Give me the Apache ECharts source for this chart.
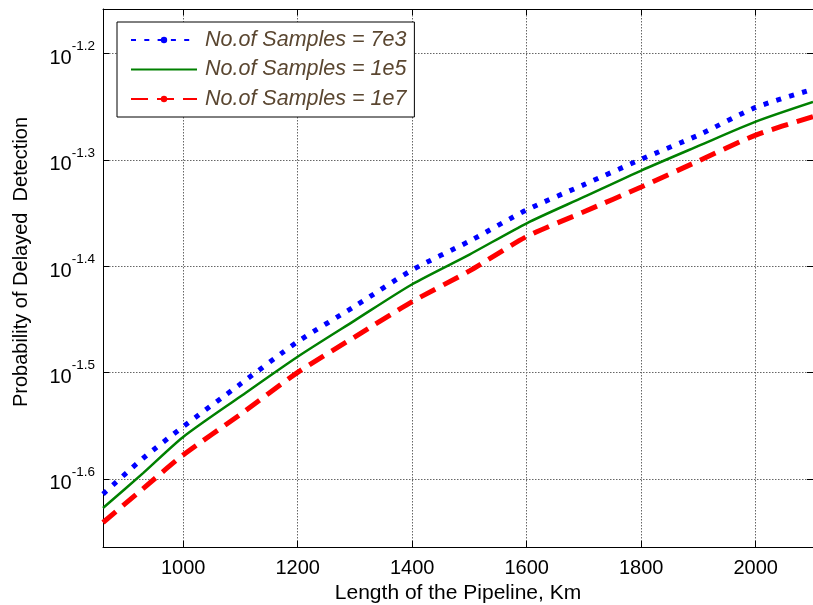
<!DOCTYPE html>
<html>
<head>
<meta charset="utf-8">
<script src="https://cdn.jsdelivr.net/npm/echarts@6/dist/echarts.min.js"></script>
<style>html,body{margin:0;padding:0;background:#fff}#c{width:813px;height:605px}</style>
</head>
<body>
<div id="c"></div>
<script>
// Pipeline length (Km)
var lengths = [860, 930, 1000, 1100, 1200, 1300, 1400, 1500, 1600, 1700, 1800, 1900, 2000, 2100];
// Probability of delayed detection
var samples7e3 = [0.02431, 0.02627, 0.02813, 0.03085, 0.03381, 0.03651, 0.03949, 0.04203, 0.04497, 0.04750, 0.05018, 0.05288, 0.05614, 0.05839];
var samples1e5 = [0.02359, 0.02544, 0.02751, 0.03003, 0.03273, 0.03541, 0.03829, 0.04083, 0.04369, 0.04625, 0.04897, 0.05165, 0.05444, 0.05681];
var samples1e7 = [0.02286, 0.02460, 0.02646, 0.02889, 0.03164, 0.03417, 0.03687, 0.03941, 0.04245, 0.04479, 0.04726, 0.05000, 0.05288, 0.05503];
var seriesNames = ['No.of Samples = 7e3', 'No.of Samples = 1e5', 'No.of Samples = 1e7'];
var xMin = 860, xMax = 2100;
var yMin = 0.02168, yMax = 0.06947;

function pairs(ys) { return lengths.map(function (x, i) { return [x, ys[i]]; }); }

var FONT = 'Liberation Sans, Arial, sans-serif';
var chart = echarts.init(document.getElementById('c'), null, { renderer: 'canvas' });

var gridLine = { show: true, lineStyle: { color: '#666', width: 1, type: [1.5, 1.5] } };
var axisLineStyle = { show: true, onZero: false, lineStyle: { color: '#000', width: 1 } };
var tickIn = { show: true, inside: true, length: 6, lineStyle: { color: '#000' } };
var eMin = Math.log10(yMin), eMax = Math.log10(yMax);

chart.setOption({
  animation: false,
  backgroundColor: '#fff',
  grid: { left: 103, right: 0, top: 9, bottom: 58, containLabel: false, outerBoundsMode: 'none' },
  legend: {
    orient: 'vertical', left: 117, top: 22,
    itemWidth: 66, itemHeight: 8, itemGap: 7.5,
    padding: [7, 8, 7, 13],
    borderColor: '#000', borderWidth: 1, backgroundColor: '#fff',
    textStyle: { fontFamily: FONT, fontSize: 21.5, fontStyle: 'italic', color: '#5a4630', lineHeight: 21, padding: [0, 0, 0, 3] },
    data: [
      { name: seriesNames[0] },
      { name: seriesNames[1], itemStyle: { opacity: 0 } },
      { name: seriesNames[2] }
    ]
  },
  xAxis: [{
    type: 'value', min: xMin, max: xMax, position: 'bottom',
    axisLine: axisLineStyle, axisTick: tickIn, splitLine: gridLine,
    axisLabel: { showMinLabel: false, showMaxLabel: false, margin: 11, fontFamily: FONT, fontSize: 20, color: '#000',
      formatter: function (v) { return String(v); } },
    name: 'Length of the Pipeline, Km', nameLocation: 'middle', nameGap: 36,
    nameTextStyle: { fontFamily: FONT, fontSize: 21, color: '#000' }
  }, {
    type: 'value', min: xMin, max: xMax, position: 'top',
    axisLine: axisLineStyle, axisTick: tickIn, splitLine: { show: false }, axisLabel: { show: false }
  }],
  yAxis: [{
    // log scale carrying the data
    type: 'log', logBase: 10, min: yMin, max: yMax, position: 'left',
    axisLine: { show: false }, axisTick: { show: false }, splitLine: { show: false }, axisLabel: { show: false }
  }, {
    // decade-exponent ruler aligned with the log scale: ticks at 10^-1.6 ... 10^-1.2
    type: 'value', min: eMin, max: eMax, position: 'left',
    axisLine: axisLineStyle, axisTick: tickIn, splitLine: gridLine,
    axisLabel: {
      showMinLabel: false, showMaxLabel: false, margin: 8, padding: [10, 0, 0, 0],
      formatter: function (e) {
        return '{b|10}{s|' + (Math.round(e * 10) / 10).toFixed(1) + '}';
      },
      rich: {
        b: { fontFamily: FONT, fontSize: 20, lineHeight: 20, color: '#000' },
        s: { fontFamily: FONT, fontSize: 13.5, lineHeight: 13, color: '#000', padding: [0, 0, 24, 0] }
      }
    },
    name: 'Probability of Delayed  Detection', nameLocation: 'middle', nameGap: 72,
    nameTextStyle: { fontFamily: FONT, fontSize: 20, color: '#000', padding: [0, 0, 0, 32] }
  }, {
    type: 'value', min: eMin, max: eMax, position: 'right',
    axisLine: axisLineStyle, axisTick: tickIn, splitLine: { show: false }, axisLabel: { show: false }
  }],
  series: [{
    name: seriesNames[0], type: 'line', data: pairs(samples7e3), yAxisIndex: 0, smooth: 0.25,
    showSymbol: false, symbol: 'circle', symbolSize: 6,
    itemStyle: { color: '#0000ff' },
    lineStyle: { color: '#0000ff', width: 5, type: [5, 8.3], cap: 'butt' }
  }, {
    name: seriesNames[1], type: 'line', data: pairs(samples1e5), yAxisIndex: 0, smooth: 0.25,
    showSymbol: false, symbol: 'circle', symbolSize: 6,
    itemStyle: { color: '#008000' },
    lineStyle: { color: '#008000', width: 2.5 }
  }, {
    name: seriesNames[2], type: 'line', data: pairs(samples1e7), yAxisIndex: 0, smooth: 0.25,
    showSymbol: false, symbol: 'circle', symbolSize: 6,
    itemStyle: { color: '#ff0000' },
    lineStyle: { color: '#ff0000', width: 5, type: [17, 9], cap: 'butt' }
  }]
});
</script>
</body>
</html>
